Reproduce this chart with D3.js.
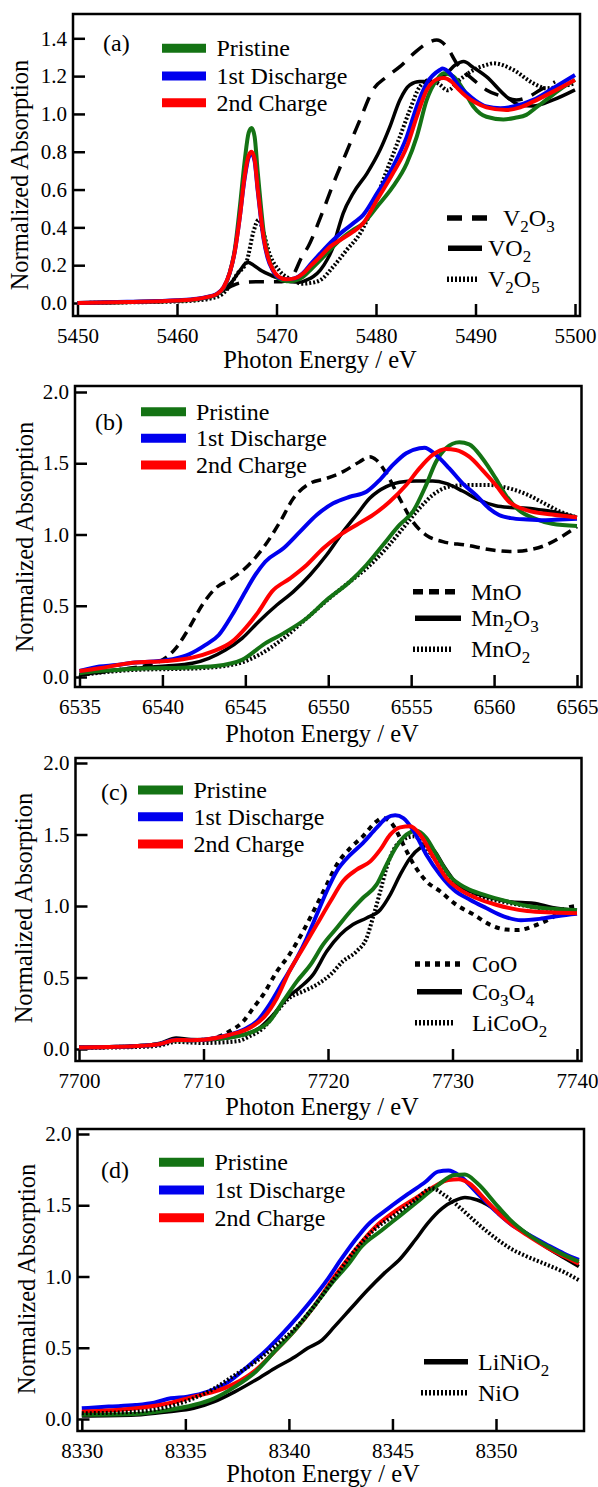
<!DOCTYPE html>
<html>
<head>
<meta charset="utf-8">
<script src="https://cdn.jsdelivr.net/npm/d3@7"></script>
<style>
  body { margin: 0; background: #fff; }
  svg { display: block; }
  svg text { font-family: 'Liberation Serif', 'Times New Roman', serif !important; }
</style>
</head>
<body>
<svg id="chart" width="598" height="1487"></svg>
<script>
// ---------- data: [photon energy (eV), normalized absorption] ----------

// (a) V K-edge
var aPristine = [[5450,0.0],[5455,0.005],[5460,0.012],[5462,0.02],[5463,0.03],[5464,0.045],[5464.7,0.08],[5465.3,0.16],[5465.8,0.28],[5466.3,0.5],[5466.8,0.75],[5467.2,0.9],[5467.5,0.925],[5467.8,0.88],[5468.1,0.7],[5468.4,0.53],[5468.7,0.38],[5469.1,0.26],[5469.6,0.18],[5470.2,0.13],[5471,0.115],[5471.8,0.118],[5472.7,0.14],[5473.5,0.18],[5474.4,0.227],[5475.2,0.27],[5476,0.315],[5477,0.36],[5477.7,0.386],[5478.7,0.421],[5480.1,0.509],[5481.7,0.615],[5483.1,0.739],[5484.1,0.88],[5485.1,1.074],[5486.1,1.18],[5486.8,1.215],[5487.8,1.197],[5488.8,1.127],[5489.8,1.038],[5491.1,0.985],[5492.8,0.971],[5494,0.98],[5495.1,0.995],[5496,1.03],[5497.1,1.074],[5498.5,1.13],[5500,1.18]];
var aDischarge = [[5450,0.0],[5455,0.006],[5460,0.014],[5462,0.022],[5463,0.032],[5464,0.048],[5464.7,0.085],[5465.3,0.16],[5465.8,0.27],[5466.3,0.45],[5466.8,0.66],[5467.2,0.77],[5467.5,0.79],[5467.8,0.75],[5468.1,0.6],[5468.4,0.46],[5468.7,0.34],[5469.1,0.24],[5469.6,0.175],[5470.2,0.135],[5471,0.125],[5471.8,0.13],[5472.7,0.16],[5473.5,0.21],[5474.4,0.262],[5475.7,0.333],[5476.7,0.38],[5477.7,0.421],[5478.7,0.465],[5480.1,0.58],[5481.7,0.721],[5483.1,0.88],[5484.1,1.04],[5485.1,1.162],[5486.4,1.232],[5486.7,1.24],[5487.5,1.21],[5488.3,1.15],[5489.1,1.109],[5490,1.07],[5491.1,1.039],[5492.5,1.03],[5493.8,1.039],[5495.8,1.074],[5497.8,1.136],[5500,1.206]];
var aCharge = [[5450,0.0],[5455,0.005],[5460,0.013],[5462,0.021],[5463,0.031],[5464,0.047],[5464.7,0.085],[5465.3,0.16],[5465.8,0.27],[5466.3,0.45],[5466.8,0.67],[5467.2,0.78],[5467.5,0.8],[5467.8,0.76],[5468.1,0.61],[5468.4,0.47],[5468.7,0.35],[5469.1,0.25],[5469.6,0.18],[5470.2,0.14],[5471,0.125],[5471.8,0.13],[5472.7,0.157],[5473.5,0.2],[5474.4,0.245],[5475.4,0.298],[5476.4,0.333],[5477.7,0.377],[5478.7,0.421],[5480.1,0.545],[5481.7,0.686],[5483.1,0.827],[5484.1,0.986],[5485.1,1.127],[5486.4,1.188],[5486.8,1.19],[5487.6,1.17],[5488.3,1.13],[5489.1,1.091],[5490,1.06],[5491.1,1.035],[5493.1,1.021],[5494.5,1.035],[5495.8,1.065],[5497.8,1.118],[5500,1.18]];
var aV2O3 = [[5450,0.0],[5456,0.006],[5460,0.012],[5462,0.02],[5463.5,0.035],[5464.5,0.06],[5465.5,0.09],[5466.5,0.108],[5468,0.112],[5470,0.112],[5471,0.118],[5471.8,0.16],[5472.5,0.24],[5473.2,0.3],[5474.4,0.45],[5475.7,0.63],[5477.05,0.8],[5478.4,0.97],[5479.7,1.127],[5481.1,1.197],[5482.4,1.25],[5483.8,1.32],[5485.1,1.373],[5486.1,1.391],[5487.1,1.356],[5488.1,1.268],[5489.8,1.18],[5491.1,1.127],[5492.8,1.091],[5494.1,1.074],[5495.3,1.09],[5496.5,1.127],[5498,1.17]];
var aVO2 = [[5450,0.0],[5456,0.005],[5460,0.012],[5462,0.02],[5463.5,0.035],[5464.5,0.06],[5465.5,0.11],[5466.3,0.17],[5467.1,0.215],[5467.7,0.2],[5468.5,0.17],[5469.5,0.145],[5470.5,0.125],[5471.5,0.112],[5472.3,0.11],[5473,0.121],[5473.7,0.14],[5474.4,0.174],[5475.1,0.23],[5475.7,0.298],[5476.2,0.39],[5476.7,0.474],[5477.7,0.58],[5479.1,0.686],[5480.4,0.809],[5481.4,0.933],[5482.4,1.074],[5483.4,1.153],[5484.4,1.171],[5485.8,1.171],[5487.1,1.215],[5488,1.26],[5488.8,1.277],[5489.8,1.245],[5491.1,1.197],[5493.1,1.092],[5494.5,1.047],[5495.8,1.042],[5497.8,1.074],[5500,1.127]];
var aV2O5 = [[5450,0.0],[5456,0.004],[5460,0.008],[5462,0.014],[5463.5,0.025],[5464.5,0.045],[5465.3,0.09],[5466,0.15],[5467,0.22],[5467.7,0.38],[5468.2,0.44],[5468.7,0.37],[5469.3,0.26],[5470.3,0.17],[5471.7,0.12],[5472.5,0.102],[5473.3,0.105],[5474.4,0.121],[5475.7,0.192],[5477.05,0.28],[5478.4,0.368],[5479.7,0.509],[5481.1,0.703],[5482.4,0.88],[5483.4,1.021],[5484.4,1.144],[5485.4,1.18],[5486.3,1.16],[5487.2,1.125],[5488.4,1.18],[5489.8,1.232],[5491.1,1.259],[5491.8,1.268],[5493.8,1.233],[5495.8,1.162],[5497.1,1.136],[5498.5,1.144],[5500,1.162]];

// (b) Mn K-edge
var bPristine = [[6535,0.026],[6536,0.04],[6537.2,0.049],[6539.2,0.061],[6541.2,0.065],[6543.2,0.077],[6544.8,0.12],[6546.2,0.236],[6547.3,0.306],[6548.7,0.412],[6549.9,0.54],[6551.3,0.669],[6552.3,0.786],[6553.3,0.926],[6554.3,1.067],[6555.1,1.16],[6555.9,1.347],[6556.5,1.511],[6557.1,1.605],[6557.9,1.647],[6558.5,1.633],[6559.3,1.534],[6560.1,1.394],[6560.7,1.277],[6561.5,1.17],[6562.5,1.11],[6563.5,1.075],[6565,1.06]];
var bDischarge = [[6535,0.042],[6536.2,0.073],[6537.2,0.084],[6538.2,0.1],[6539.8,0.112],[6540.8,0.131],[6541.6,0.159],[6542.6,0.225],[6543.4,0.295],[6544.2,0.435],[6545,0.599],[6545.6,0.716],[6546.2,0.809],[6547.3,0.903],[6548.3,1.02],[6549.3,1.137],[6550.3,1.219],[6551.3,1.265],[6552.3,1.3],[6553.1,1.382],[6553.9,1.488],[6554.7,1.57],[6555.5,1.605],[6555.8,1.609],[6556.5,1.558],[6557.3,1.464],[6558.1,1.359],[6558.9,1.277],[6559.7,1.183],[6560.3,1.137],[6561,1.115],[6562,1.105],[6563,1.1],[6564,1.105],[6565,1.11]];
var bCharge = [[6535,0.042],[6536.2,0.061],[6538.2,0.1],[6540.2,0.112],[6541.8,0.136],[6543,0.178],[6544.2,0.248],[6545,0.342],[6545.8,0.459],[6546.6,0.599],[6547.7,0.692],[6548.7,0.786],[6549.7,0.903],[6550.7,0.996],[6551.7,1.067],[6552.7,1.137],[6553.7,1.23],[6554.7,1.347],[6555.5,1.464],[6556.3,1.558],[6557.1,1.6],[6557.7,1.593],[6558.5,1.546],[6559.3,1.452],[6560.1,1.347],[6560.9,1.23],[6562,1.17],[6563.5,1.14],[6565,1.12]];
var bMnO = [[6535,0.014],[6537.2,0.049],[6539.8,0.108],[6540.8,0.201],[6541.6,0.342],[6542.4,0.505],[6543.2,0.622],[6544.2,0.692],[6545.2,0.786],[6546.2,0.926],[6547.1,1.09],[6547.9,1.254],[6548.9,1.359],[6549.9,1.394],[6550.9,1.441],[6551.9,1.511],[6552.5,1.546],[6552.9,1.523],[6553.5,1.429],[6554.3,1.254],[6555.1,1.09],[6555.9,0.996],[6556.9,0.95],[6558.3,0.926],[6559.9,0.891],[6561,0.88],[6562,0.89],[6563,0.92],[6564,0.98],[6565,1.055]];
var bMn2O3 = [[6535,0.014],[6538.2,0.061],[6540.2,0.077],[6541.8,0.096],[6542.8,0.131],[6543.8,0.189],[6544.8,0.271],[6545.8,0.388],[6546.9,0.505],[6547.9,0.599],[6548.9,0.716],[6549.9,0.856],[6550.9,1.02],[6551.7,1.137],[6552.5,1.254],[6553.5,1.336],[6554.3,1.366],[6555.3,1.375],[6556.3,1.375],[6557.1,1.359],[6558.1,1.305],[6559.1,1.242],[6560.1,1.202],[6561,1.19],[6562,1.185],[6563,1.17],[6564,1.15],[6565,1.12]];
var bMnO2 = [[6535,0.014],[6538.2,0.049],[6542.2,0.061],[6544.6,0.096],[6545.8,0.154],[6547.3,0.271],[6548.7,0.412],[6550.3,0.575],[6551.3,0.669],[6552.3,0.762],[6553.5,0.903],[6554.5,1.043],[6555.5,1.184],[6556.3,1.277],[6557.3,1.336],[6558.3,1.347],[6559.7,1.347],[6560.9,1.324],[6562,1.28],[6563,1.22],[6564,1.16],[6565,1.12]];

// (c) Co K-edge
var cPristine = [[7700,0.01],[7703,0.015],[7705,0.022],[7706.5,0.035],[7707.8,0.062],[7709,0.06],[7710,0.065],[7712.7,0.089],[7714.3,0.135],[7715.3,0.194],[7716.4,0.334],[7717.5,0.473],[7718.6,0.59],[7719.6,0.73],[7720.7,0.846],[7721.8,0.963],[7722.8,1.056],[7723.9,1.149],[7724.7,1.289],[7725.5,1.417],[7726.3,1.499],[7727.1,1.527],[7727.9,1.476],[7728.7,1.359],[7729.8,1.208],[7731.1,1.126],[7732.5,1.079],[7734.6,1.028],[7736,1.0],[7738,0.98],[7740,0.97]];
var cDischarge = [[7700,0.01],[7703,0.015],[7705,0.022],[7706.5,0.035],[7707.8,0.065],[7709,0.062],[7710,0.065],[7711.6,0.089],[7713.2,0.135],[7714.3,0.194],[7715.3,0.31],[7716.4,0.473],[7717.5,0.636],[7718.3,0.776],[7719.1,0.94],[7719.9,1.103],[7720.7,1.243],[7721.8,1.359],[7722.8,1.44],[7723.9,1.546],[7724.7,1.615],[7725.4,1.634],[7726.05,1.615],[7726.9,1.522],[7727.9,1.359],[7729,1.219],[7730.1,1.114],[7731.4,1.044],[7732.7,0.986],[7734.1,0.928],[7735.5,0.9],[7737,0.91],[7738.5,0.93],[7740,0.945]];
var cCharge = [[7700,0.01],[7703,0.015],[7705,0.022],[7706.5,0.035],[7707.8,0.063],[7709,0.062],[7710,0.065],[7712.1,0.1],[7713.7,0.147],[7714.8,0.217],[7715.9,0.357],[7716.9,0.543],[7718,0.706],[7719.1,0.87],[7720.2,1.033],[7721.2,1.173],[7722.3,1.254],[7723.4,1.312],[7724.2,1.394],[7725,1.499],[7725.8,1.55],[7726.6,1.557],[7727.4,1.499],[7728.5,1.336],[7729.5,1.196],[7730.6,1.114],[7731.9,1.056],[7733.5,1.009],[7734.6,0.985],[7736,0.965],[7738,0.955],[7740,0.95]];
var cCoO = [[7700,0.01],[7703,0.015],[7705,0.022],[7706.5,0.035],[7707.8,0.065],[7709,0.062],[7710,0.065],[7711,0.08],[7712.1,0.124],[7713.2,0.194],[7714,0.287],[7714.8,0.38],[7715.9,0.543],[7716.9,0.66],[7718,0.823],[7719.1,1.009],[7719.9,1.149],[7720.7,1.289],[7721.8,1.406],[7722.8,1.487],[7723.9,1.592],[7724.4,1.615],[7725.2,1.569],[7726.05,1.429],[7726.9,1.289],[7727.9,1.173],[7729,1.103],[7730.3,1.009],[7731.7,0.94],[7733,0.87],[7734.3,0.835],[7735.3,0.832],[7736.5,0.86],[7738,0.92],[7739,0.98],[7740,1.0]];
var cCo3O4 = [[7700,0.01],[7703,0.015],[7705,0.022],[7706.5,0.04],[7707.8,0.077],[7709,0.066],[7710,0.065],[7713.2,0.1],[7714.5,0.147],[7715.6,0.24],[7716.7,0.357],[7717.7,0.427],[7718.8,0.52],[7719.9,0.683],[7721,0.8],[7722,0.87],[7723.1,0.916],[7724.2,0.974],[7725,1.079],[7725.8,1.219],[7726.6,1.336],[7727.4,1.405],[7727.9,1.424],[7728.5,1.39],[7729.3,1.28],[7730.3,1.16],[7731.5,1.1],[7733,1.06],[7734.6,1.03],[7736.5,1.02],[7738,0.99],[7740,0.97]];
var cLiCoO2 = [[7700,0.008],[7705,0.015],[7706.5,0.025],[7707.8,0.05],[7709,0.045],[7710,0.042],[7712.7,0.054],[7713.7,0.089],[7714.8,0.147],[7715.9,0.264],[7716.9,0.357],[7718,0.403],[7719.1,0.45],[7720.2,0.52],[7721.2,0.613],[7722.3,0.683],[7723.1,0.776],[7723.6,0.916],[7724.2,1.103],[7724.7,1.266],[7725.2,1.382],[7726.05,1.464],[7726.9,1.487],[7727.7,1.429],[7728.5,1.336],[7729.5,1.22],[7730.5,1.14],[7732,1.07],[7734,1.03],[7736,1.0],[7738,0.975],[7740,0.96]];

// (d) Ni K-edge
var dPristine = [[8330,0.03],[8332.6,0.035],[8334.2,0.063],[8335.4,0.098],[8336.4,0.145],[8337.4,0.227],[8338.4,0.332],[8339.3,0.472],[8340.3,0.625],[8341.2,0.788],[8342.2,0.975],[8342.9,1.092],[8343.5,1.209],[8344.5,1.326],[8345.4,1.431],[8346.4,1.548],[8347.2,1.642],[8348,1.712],[8348.5,1.715],[8349.1,1.654],[8350.1,1.49],[8350.7,1.396],[8351.5,1.3],[8352.5,1.21],[8353.3,1.15],[8354,1.105]];
var dDischarge = [[8330,0.075],[8331.3,0.087],[8332.6,0.098],[8333.5,0.115],[8334.3,0.145],[8335.1,0.157],[8336.1,0.192],[8337.1,0.262],[8338,0.367],[8339,0.496],[8340,0.648],[8340.9,0.8],[8341.9,0.987],[8342.5,1.116],[8343.2,1.256],[8343.8,1.361],[8344.8,1.478],[8345.8,1.584],[8346.6,1.665],[8347.2,1.736],[8347.7,1.743],[8348.3,1.7],[8349.1,1.584],[8350.1,1.443],[8350.7,1.37],[8351.5,1.3],[8352.5,1.22],[8353.3,1.16],[8354,1.116]];
var dCharge = [[8330,0.051],[8332.6,0.075],[8334.2,0.11],[8335.4,0.157],[8336.4,0.192],[8337.4,0.25],[8338.4,0.344],[8339.3,0.472],[8340.3,0.625],[8341.2,0.788],[8342.2,0.999],[8343.2,1.186],[8344.1,1.338],[8345.1,1.455],[8346.1,1.548],[8347,1.63],[8347.7,1.677],[8348.2,1.682],[8348.7,1.654],[8349.5,1.537],[8350.3,1.419],[8350.7,1.37],[8351.5,1.29],[8352.5,1.2],[8353.3,1.14],[8354,1.09]];
var dLiNiO2 = [[8330,0.021],[8332.6,0.028],[8334.2,0.051],[8335.4,0.075],[8336.4,0.122],[8337.4,0.192],[8338.4,0.274],[8339.3,0.355],[8340.3,0.437],[8340.9,0.496],[8341.6,0.554],[8342.2,0.648],[8343,0.777],[8343.8,0.905],[8344.6,1.022],[8345.4,1.128],[8346.1,1.256],[8346.7,1.373],[8347.4,1.478],[8348,1.532],[8348.5,1.555],[8349.1,1.537],[8350.1,1.455],[8350.7,1.385],[8351.5,1.3],[8352.5,1.2],[8353.3,1.13],[8354,1.07]];
var dNiO = [[8330,0.04],[8332.6,0.051],[8334.2,0.087],[8335.4,0.145],[8336.4,0.215],[8337.4,0.309],[8338.4,0.402],[8339.3,0.508],[8340.3,0.636],[8341.2,0.788],[8342.2,0.987],[8343.2,1.186],[8344.1,1.326],[8345.1,1.431],[8346.1,1.537],[8346.9,1.619],[8347.5,1.572],[8348.3,1.478],[8349.1,1.373],[8350.1,1.256],[8350.7,1.197],[8351.5,1.14],[8352.5,1.08],[8353.3,1.03],[8354,0.975]];

// tick values
var aXTicks = [5450, 5460, 5470, 5480, 5490, 5500];
var bXTicks = [6535, 6540, 6545, 6550, 6555, 6560, 6565];
var cXTicks = [7700, 7710, 7720, 7730, 7740];
var dXTicks = [8330, 8335, 8340, 8345, 8350];
var aYTicks = [0, 0.2, 0.4, 0.6, 0.8, 1.0, 1.2, 1.4];
var bcdYTicks = [0, 0.5, 1.0, 1.5, 2.0];

// legend labels ("_" marks a subscript digit)
var sampleNames = ["Pristine", "1st Discharge", "2nd Charge"];
var aRefNames = ["V_2O_3", "VO_2", "V_2O_5"];
var bRefNames = ["MnO", "Mn_2O_3", "MnO_2"];
var cRefNames = ["CoO", "Co_3O_4", "LiCoO_2"];
var dRefNames = ["LiNiO_2", "NiO"];

// ---------- styles ----------
var FONT = "'Liberation Serif', 'Times New Roman', serif";
var green = "#147314", blue = "#0000ee", red = "#ff0000";
var lineStyles = {
    green:  { stroke: green, width: 4, dash: null },
    blue:   { stroke: blue, width: 4, dash: null },
    red:    { stroke: red, width: 4, dash: null },
    solid:  { stroke: "#000", width: 3.5, dash: null },
    dash:   { stroke: "#000", width: 3.5, dash: "15,10" },
    dashS:  { stroke: "#000", width: 3.5, dash: "10,6" },
    dotR:   { stroke: "#000", width: 4, dash: "5,5" },
    dot:    { stroke: "#000", width: 4, dash: "2,2" }
};

// ---------- layout ----------
var panels = [
    { tag: "(a)", frame: [73, 14, 580, 316], xPx: [77.5, 575], yPx: [303, 38.3],
      xTicks: aXTicks, yTicks: aYTicks,
      lines: [[aV2O3, "dash"], [aVO2, "solid"], [aV2O5, "dot"], [aPristine, "green"], [aDischarge, "blue"], [aCharge, "red"]],
      tagPos: [103, 51], yTitle: [28, 175], xTitle: [320, 368],
      colLeg: { x1: 162, x2: 206, tx: 216.5, rows: [48.3, 76, 102.7] },
      refLeg: [ { name: aRefNames[0], style: "dash", x1: 447, x2: 497, tx: 503, y: 218 },
                { name: aRefNames[1], style: "solid", x1: 448, x2: 482, tx: 488, y: 248.3 },
                { name: aRefNames[2], style: "dot", x1: 447, x2: 479, tx: 488, y: 279.3 } ] },
    { tag: "(b)", frame: [75, 386, 581.5, 687], xPx: [79.5, 577], yPx: [677, 392],
      xTicks: bXTicks, yTicks: bcdYTicks,
      lines: [[bMnO, "dashS"], [bMn2O3, "solid"], [bMnO2, "dot"], [bPristine, "green"], [bDischarge, "blue"], [bCharge, "red"]],
      tagPos: [95, 430], yTitle: [33, 537], xTitle: [322, 742],
      colLeg: { x1: 141, x2: 186, tx: 196, rows: [411.7, 438.3, 465] },
      refLeg: [ { name: bRefNames[0], style: "dashS", x1: 413, x2: 461, tx: 471, y: 591.7 },
                { name: bRefNames[1], style: "solid", x1: 415, x2: 461, tx: 471, y: 618.3 },
                { name: bRefNames[2], style: "dot", x1: 413, x2: 451, tx: 471, y: 649.3 } ] },
    { tag: "(c)", frame: [75.5, 758, 581.5, 1061], xPx: [79, 577], yPx: [1049, 763],
      xTicks: cXTicks, yTicks: bcdYTicks,
      lines: [[cCoO, "dotR"], [cCo3O4, "solid"], [cLiCoO2, "dot"], [cPristine, "green"], [cDischarge, "blue"], [cCharge, "red"]],
      tagPos: [101, 800], yTitle: [32, 908], xTitle: [322, 1114.5],
      colLeg: { x1: 138, x2: 183, tx: 193.5, rows: [790, 816.7, 844] },
      refLeg: [ { name: cRefNames[0], style: "dotR", x1: 415, x2: 463, tx: 472, y: 964 },
                { name: cRefNames[1], style: "solid", x1: 417, x2: 462, tx: 472, y: 991.7 },
                { name: cRefNames[2], style: "dot", x1: 415, x2: 453, tx: 472, y: 1022.7 } ] },
    { tag: "(d)", frame: [77.5, 1129, 584, 1431], xPx: [81.8, 496], yPx: [1419, 1134],
      xTicks: dXTicks, yTicks: bcdYTicks,
      lines: [[dLiNiO2, "solid"], [dDischarge, "blue"], [dCharge, "red"], [dPristine, "green"], [dNiO, "dot"]],
      tagPos: [101, 1178], yTitle: [35, 1279], xTitle: [323, 1481.5],
      colLeg: { x1: 159, x2: 204, tx: 214.5, rows: [1162.3, 1190, 1217.7] },
      refLeg: [ { name: dRefNames[0], style: "solid", x1: 424, x2: 468, tx: 478, y: 1361.7 },
                { name: dRefNames[1], style: "dot", x1: 421, x2: 468, tx: 478, y: 1392.7 } ] }
];

var svg = d3.select("#chart").attr("font-family", FONT);
svg.append("rect").attr("width", 598).attr("height", 1487).attr("fill", "#fff");

function addText(sel, size) {
    return sel.append("text").attr("font-size", size).attr("font-family", FONT).attr("fill", "#000");
}

// writes "Co_3O_4" with lowered, smaller digits
function chemText(sel, str) {
    var parts = str.split(/(_\d)/).filter(function (s) { return s.length; });
    var lowered = false;
    parts.forEach(function (p) {
        if (p[0] === "_") {
            sel.append("tspan").attr("font-size", 17).attr("dy", 6).text(p.slice(1));
            lowered = true;
        } else {
            sel.append("tspan").attr("dy", lowered ? -6 : 0).text(p);
            lowered = false;
        }
    });
}

function applyStyle(sel, key) {
    var s = lineStyles[key];
    sel.attr("fill", "none").attr("stroke", s.stroke).attr("stroke-width", s.width)
        .attr("stroke-linejoin", "round");
    if (s.dash) sel.attr("stroke-dasharray", s.dash);
}

panels.forEach(function (p) {
    var xt = p.xTicks, yt = p.yTicks;
    var x = d3.scaleLinear().domain([xt[0], xt[xt.length - 1]]).range(p.xPx);
    var y = d3.scaleLinear().domain([yt[0], yt[yt.length - 1]]).range(p.yPx);
    var L = p.frame[0], T = p.frame[1], R = p.frame[2], B = p.frame[3];
    var g = svg.append("g");

    // axes with inward ticks
    var xAxis = g.append("g").attr("transform", "translate(0," + B + ")")
        .call(d3.axisBottom(x).tickValues(xt).tickSize(-12).tickPadding(12).tickFormat(d3.format("d")));
    var yAxis = g.append("g").attr("transform", "translate(" + L + ",0)")
        .call(d3.axisLeft(y).tickValues(yt).tickSize(-12).tickPadding(6).tickFormat(d3.format(".1f")));
    [xAxis, yAxis].forEach(function (ax) {
        ax.attr("font-family", FONT).attr("font-size", 21);
        ax.select(".domain").remove();
        ax.selectAll(".tick line").attr("stroke", "#000").attr("stroke-width", 2.5);
        ax.selectAll(".tick text").attr("font-size", 21).attr("font-family", FONT).attr("fill", "#000");
    });

    // curves
    var line = d3.line().x(function (d) { return x(d[0]); }).y(function (d) { return y(d[1]); })
        .curve(d3.curveMonotoneX);
    p.lines.forEach(function (l) {
        g.append("path").datum(l[0]).attr("d", line).call(applyStyle, l[1]);
    });

    // frame
    g.append("rect").attr("x", L).attr("y", T).attr("width", R - L).attr("height", B - T)
        .attr("fill", "none").attr("stroke", "#000").attr("stroke-width", 2.5);

    // titles
    addText(g, 24.5).attr("x", p.xTitle[0]).attr("y", p.xTitle[1]).attr("text-anchor", "middle")
        .text("Photon Energy / eV");
    addText(g, 24.5).attr("transform", "translate(" + p.yTitle[0] + "," + p.yTitle[1] + ") rotate(-90)")
        .attr("text-anchor", "middle").text("Normalized Absorption");
    addText(g, 24).attr("x", p.tagPos[0]).attr("y", p.tagPos[1]).text(p.tag);

    // legend of the samples
    var keys = ["green", "blue", "red"];
    sampleNames.forEach(function (name, i) {
        var ry = p.colLeg.rows[i];
        g.append("line").attr("x1", p.colLeg.x1).attr("x2", p.colLeg.x2).attr("y1", ry).attr("y2", ry)
            .attr("stroke", lineStyles[keys[i]].stroke).attr("stroke-width", 9);
        addText(g, 24).attr("x", p.colLeg.tx).attr("y", ry + 8).text(name);
    });

    // legend of the reference oxides
    p.refLeg.forEach(function (r) {
        g.append("line").attr("x1", r.x1).attr("x2", r.x2).attr("y1", r.y).attr("y2", r.y)
            .call(applyStyle, r.style).attr("stroke-width", 5.5);
        addText(g, 24).attr("x", r.tx).attr("y", r.y + 8).call(chemText, r.name);
    });
});
</script>
</body>
</html>
